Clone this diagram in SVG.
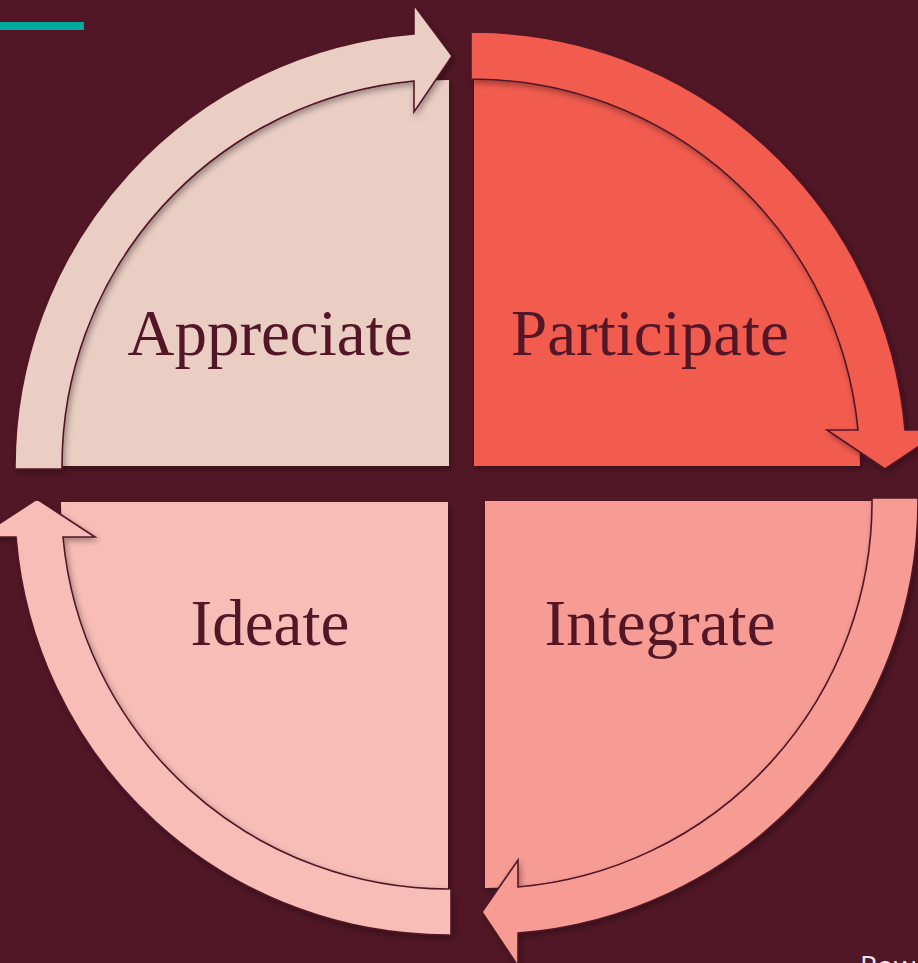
<svg xmlns="http://www.w3.org/2000/svg" width="918" height="963" viewBox="0 0 918 963">
<style>
.lbl{font-family:"Liberation Serif","Times New Roman",serif;font-size:65px;fill:#521726;text-anchor:middle}
.arrow{stroke:#521726;stroke-width:1.6;stroke-linejoin:miter}
.pie{stroke:none}
</style>
<defs>
<filter id="sh" x="-10%" y="-10%" width="120%" height="120%">
<feDropShadow dx="2" dy="3" stdDeviation="3" flood-color="#000" flood-opacity="0.35"/>
</filter>
</defs>
<rect x="0" y="0" width="918" height="963" fill="#521726"/>
<rect x="0" y="22" width="84" height="8" fill="#00A99D"/>
<g id="node-appreciate" filter="url(#sh)">
<path class="pie" fill="#EACDC3" d="M449,466 L62,466 A387,387 0 0 1 449,80 Z"/>
<text class="lbl" x="270" y="355">Appreciate</text>
</g>
<g id="node-participate" filter="url(#sh)">
<path class="pie" fill="#F25C50" d="M474,466 L474,79 A388,388 0 0 1 860,466 Z"/>
<text class="lbl" x="650" y="355">Participate</text>
</g>
<g id="node-integrate" filter="url(#sh)">
<path class="pie" fill="#F79C94" d="M485,501 L872,501 A387,387 0 0 1 485,888 Z"/>
<text class="lbl" x="660" y="645">Integrate</text>
</g>
<g id="node-ideate" filter="url(#sh)">
<path class="pie" fill="#F8BDB7" d="M448,502 L448,889 A387,387 0 0 1 61,502 Z"/>
<text class="lbl" x="270" y="645">Ideate</text>
</g>
<g id="connectors">
<path class="arrow" filter="url(#sh)" fill="#EACDC3" d="M15,469 A434,434 0 0 1 414,34 L414,5 L452,56 L414,112 L414,81 A387,387 0 0 0 62,469 Z"/>
<path class="arrow" filter="url(#sh)" fill="#F25C50" d="M471,32 A435,435 0 0 1 905,430 L943,430 L885,469 L827,430 L858,430 A388,388 0 0 0 471,79 Z"/>
<path class="arrow" filter="url(#sh)" fill="#F79C94" d="M918,498 A433,433 0 0 1 518,933 L518,966 L482,912 L518,860 L518,887 A387,387 0 0 0 872,498 Z"/>
<path class="arrow" filter="url(#sh)" fill="#F8BDB7" d="M451,935 A433,433 0 0 1 16,537 L-21,537 L37,499 L95,537 L63,537 A387,387 0 0 0 451,889 Z"/>
</g>
<text x="860" y="976" font-family="'Open Sans','Liberation Sans',sans-serif" font-size="28" fill="#EDE6E8">Pow</text>
</svg>
